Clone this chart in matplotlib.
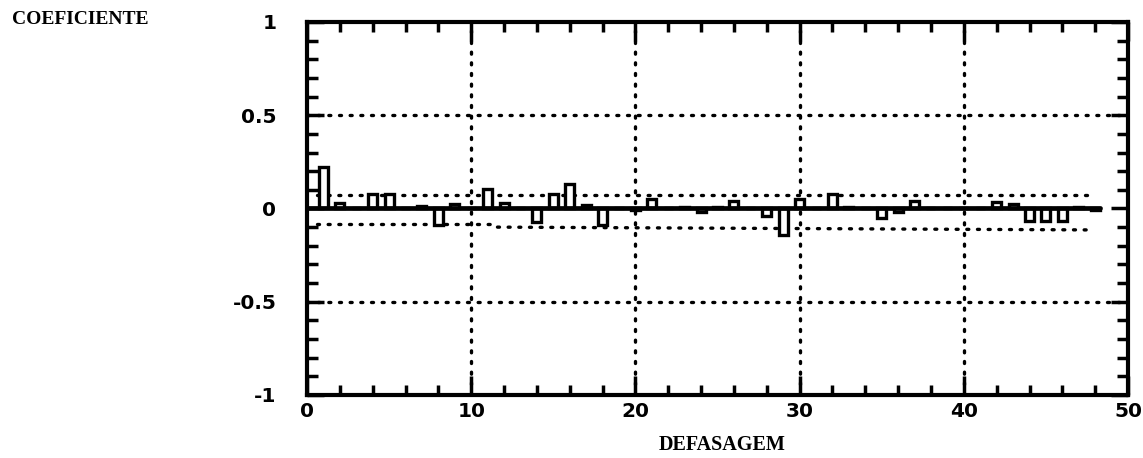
import matplotlib
matplotlib.use("Agg")
import matplotlib.pyplot as plt
import numpy as np

# ---- data ----
lags = list(range(1, 49))
acf = [0.22, 0.03, 0.00, 0.08, 0.08, 0.00, 0.015, -0.09, 0.025, 0.00,
       0.105, 0.03, 0.00, -0.07, 0.08, 0.13, 0.02, -0.09, 0.00, -0.01,
       0.05, 0.00, 0.01, -0.02, 0.01, 0.04, 0.00, -0.04, -0.14, 0.05,
       0.00, 0.08, 0.01, 0.00, -0.05, -0.02, 0.04, 0.00, 0.00, 0.00,
       0.00, 0.035, 0.025, -0.065, -0.065, -0.065, 0.01, -0.01]
upper_band_x = [0.6, 47.8]
upper_band_y = [0.07, 0.07]
lower_band1_x = [0.6, 11.3]
lower_band1_y = [-0.085, -0.085]
lower_band2_x = [11.6, 47.8]
lower_band2_y = [-0.10, -0.115]
xticklabels = ["0", "10", "20", "30", "40", "50"]
yticklabels = ["-1", "-0.5", "0", "0.5", "1"]

fig = plt.figure(figsize=(11.43, 4.58), dpi=100)
ax = fig.add_axes([0.2686, 0.1376, 0.9869 - 0.2686, 0.952 - 0.1376])
ax.set_xlim(0, 50)
ax.set_ylim(-1, 1)

dot = dict(color="black", linestyle=(0, (0.6, 2.6)), linewidth=2.4,
           dash_capstyle="round")
# grid
for gx in [10, 20, 30, 40]:
    ax.plot([gx, gx], [-1, 1], zorder=1, **dot)
for gy in [0.5, -0.5]:
    ax.plot([0, 50], [gy, gy], zorder=1, **dot)
# confidence bands
ax.plot(upper_band_x, upper_band_y, zorder=1, **dot)
ax.plot(lower_band1_x, lower_band1_y, zorder=1, **dot)
ax.plot(lower_band2_x, lower_band2_y, zorder=1, **dot)

# bars
ax.bar(lags, acf, width=0.55, color="white", edgecolor="black",
       linewidth=2.4, zorder=3)
# zero line
ax.plot([0, 48.3], [0, 0], color="black", linewidth=3.4,
        solid_capstyle="round", zorder=4)

for s in ax.spines.values():
    s.set_linewidth(3.0)

ax.set_xticks([0, 10, 20, 30, 40, 50])
ax.set_xticklabels(xticklabels)
ax.set_xticks(np.arange(0, 51, 2), minor=True)
ax.set_yticks([-1, -0.5, 0, 0.5, 1])
ax.set_yticklabels(yticklabels)
ax.set_yticks(np.arange(-1, 1.01, 0.1), minor=True)

ax.tick_params(axis="both", which="both", direction="in", top=True,
               right=True, width=2.5)
ax.tick_params(axis="x", which="major", length=14, pad=5)
ax.tick_params(axis="x", which="minor", length=7)
ax.tick_params(axis="y", which="major", length=12, pad=22)
ax.tick_params(axis="y", which="minor", length=8)
for lab in ax.get_xticklabels() + ax.get_yticklabels():
    lab.set_fontfamily("DejaVu Sans")
    lab.set_fontweight("heavy")
    lab.set_fontsize(14.5)

fig.text(0.0105, 0.958, "COEFICIENTE", family="Liberation Serif",
         weight="bold", fontsize=14, ha="left", va="center")
fig.text(0.632, 0.028, "DEFASAGEM", family="Liberation Serif",
         weight="bold", fontsize=14.5, ha="center", va="center")

fig.savefig("out.png", dpi=100)
